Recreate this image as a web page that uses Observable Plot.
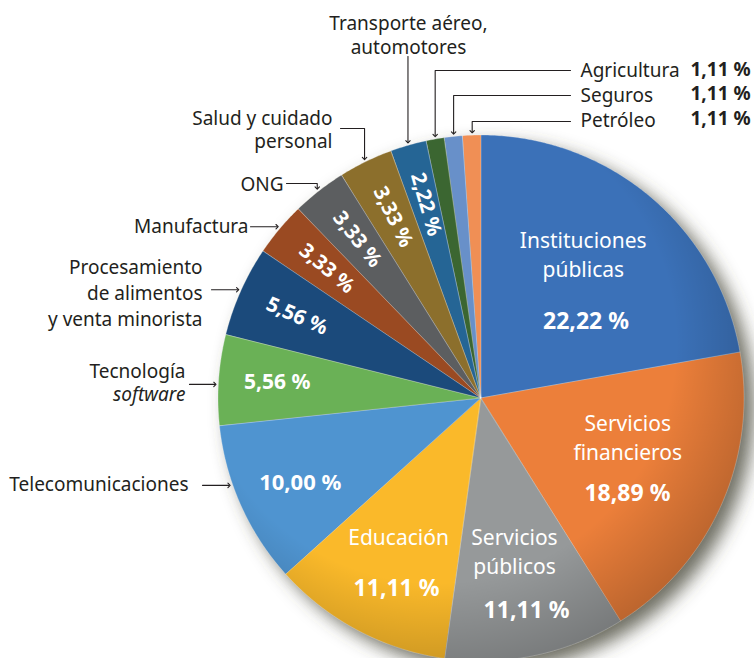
<!DOCTYPE html>
<html><head><meta charset="utf-8">
<script src="https://cdn.jsdelivr.net/npm/d3@7"></script>
<script src="https://cdn.jsdelivr.net/npm/@observablehq/plot@0.6"></script>
<style>html,body{margin:0;padding:0;background:#fff;overflow:hidden} #chart svg{display:block}</style>
</head><body><div id="chart"></div>
<script>
// ---- data ----
const categories = ["Instituciones públicas","Servicios financieros","Servicios públicos","Educación","Telecomunicaciones","Tecnología software","Procesamiento de alimentos y venta minorista","Manufactura","ONG","Salud y cuidado personal","Transporte aéreo, automotores","Agricultura","Seguros","Petróleo"];
const values = [22.22,18.89,11.11,11.11,10.00,5.56,5.56,3.33,3.33,3.33,2.22,1.11,1.11,1.11];
const colors = ["#3b71b8","#ec7f3a","#96999a","#fab92a","#4f94d0","#6ab156","#1b4a7b","#9a4a22","#5c5e60","#8c6f2c","#256595","#3b6631","#6890c9","#f08f55"];
const fmt = v => v.toFixed(2).replace(".", ",") + " %";

// ---- layout ----
const W = 754, H = 658, CX = 481, CY = 398, R = 263;
const FONT = "Noto Sans";
const INK = "#231f20";

const total = d3.sum(values);
let acc = 0;
const slices = categories.map((name, i) => {
  const a0 = acc / total * 360; acc += values[i]; const a1 = acc / total * 360;
  return {name, value: values[i], a0, a1, mid: (a0 + a1) / 2, i};
});
const polar = (deg, r) => [CX + r * Math.sin(deg * Math.PI / 180), CY - r * Math.cos(deg * Math.PI / 180)];
const bySlice = Object.fromEntries(slices.map(s => [s.name, s]));

const wedgePts = slices.flatMap(s => {
  const n = Math.max(2, Math.ceil((s.a1 - s.a0) / 0.5));
  return d3.range(n + 1).map(k => {
    const [x, y] = polar(s.a0 + (s.a1 - s.a0) * k / n, R);
    return {name: s.name, x, y};
  });
});
const circlePts = d3.range(0, 361, 1).map(a => { const [x, y] = polar(a, R); return {x, y}; });

// inner labels (polar offsets from slice mid-angle)
const innerNames = [
  {cat: "Instituciones públicas", text: "Instituciones\npúblicas", d: -4.9, r: 177},
  {cat: "Servicios financieros", text: "Servicios\nfinancieros", d: -9.6, r: 151},
  {cat: "Servicios públicos", text: "Servicios\npúblicos", d: -0.3, r: 155},
  {cat: "Educación", text: "Educación", d: 3.2, r: 160}
].map(o => { const [x, y] = polar(bySlice[o.cat].mid + o.d, o.r); return {...o, x, y}; });

const innerValues = [
  {cat: "Instituciones públicas", d: 13.5, r: 130, size: 23},
  {cat: "Servicios financieros", d: 9, r: 174, size: 23},
  {cat: "Servicios públicos", d: 0, r: 217, size: 23},
  {cat: "Educación", d: -3.9, r: 208, size: 23},
  {cat: "Telecomunicaciones", d: -1, r: 200, size: 22},
  {cat: "Tecnología software", d: 0.5, r: 205, size: 21}
].map(o => { const s = bySlice[o.cat]; const [x, y] = polar(s.mid + o.d, o.r); return {...o, x, y, text: fmt(s.value)}; });

const rotatedValues = ["Procesamiento de alimentos y venta minorista","Manufactura","ONG","Salud y cuidado personal","Transporte aéreo, automotores"]
  .map(c => { const s = bySlice[c]; const [x, y] = polar(s.mid, 202); return {x, y, rot: s.mid - 270, text: fmt(s.value)}; });

// outer callout labels
const outerEnd = [
  {text: "Salud y cuidado\npersonal", x: 332, y: 128.5},
  {text: "ONG", x: 283, y: 183},
  {text: "Manufactura", x: 248, y: 225},
  {text: "Tecnología", x: 185, y: 370.5},
  {text: "Telecomunicaciones", x: 188, y: 483}
];
const outerEndWide = [{text: "Procesamiento\nde alimentos\ny venta minorista", x: 202, y: 291}];
const outerItalic = [{text: "software", x: 185, y: 394}];
const outerMiddle = [{text: "Transporte aéreo,\nautomotores", x: 408, y: 34}];
const outerStart = [
  {text: "Agricultura", x: 580, y: 70},
  {text: "Seguros", x: 580, y: 95},
  {text: "Petróleo", x: 580, y: 120}
];
const outerStartValues = ["Agricultura","Seguros","Petróleo"].map((c, k) => ({text: fmt(bySlice[c].value), x: 690, y: [69, 93, 118][k]}));

// leader lines: tip computed from slice angle
const TIP = R + 4;
const leaders = [
  {cat: "Transporte aéreo, automotores", type: "v", y0: 56},
  {cat: "Agricultura", type: "elbow", x0: 570, y0: 70},
  {cat: "Seguros", type: "elbow", x0: 570, y0: 95},
  {cat: "Petróleo", type: "elbow", x0: 570, y0: 121},
  {cat: "Salud y cuidado personal", type: "elbow", x0: 340, y0: 128},
  {cat: "ONG", type: "elbow", x0: 286, y0: 183},
  {cat: "Manufactura", type: "h", x0: 250},
  {cat: "Procesamiento de alimentos y venta minorista", type: "h", x0: 211},
  {cat: "Tecnología software", type: "h", x0: 189, d: -1},
  {cat: "Telecomunicaciones", type: "h", x0: 202, d: 5}
];
const leaderPts = leaders.flatMap((l, id) => {
  const [tx, ty] = polar(bySlice[l.cat].mid + (l.d || 0), TIP);
  if (l.type === "v") return [{id, x: tx, y: l.y0}, {id, x: tx, y: ty}];
  if (l.type === "h") return [{id, x: l.x0, y: ty}, {id, x: tx, y: ty}];
  return [{id, x: l.x0, y: l.y0}, {id, x: tx, y: l.y0}, {id, x: tx, y: ty}];
});

const chart = Plot.plot({
  width: W, height: H, margin: 0,
  style: {fontFamily: FONT, background: "white"},
  x: {domain: [0, W], range: [0, W], axis: null},
  y: {domain: [0, H], range: [0, H], axis: null},
  color: {domain: categories, range: colors},
  marks: [
    Plot.area(circlePts, {x1: d => CX, y1: d => CY, x2: "x", y2: "y", fill: "#4a4a3c", fillOpacity: 0.8, dx: 10, dy: 9}),
    Plot.area(wedgePts, {x1: d => CX, y1: d => CY, x2: "x", y2: "y", z: "name", fill: "name", stroke: "white", strokeOpacity: 0.45, strokeWidth: 0.6}),
    Plot.area(circlePts, {x1: d => CX, y1: d => CY, x2: "x", y2: "y", fill: "url(#pieShade)"}),
    Plot.text(innerNames, {x: "x", y: "y", text: "text", fill: "white", fontSize: 21, lineHeight: 1.38, fontFamily: FONT}),
    Plot.text(innerValues, {x: "x", y: "y", text: "text", fill: "white", fontSize: d => d.size, fontWeight: "bold", fontFamily: FONT}),
    Plot.text(rotatedValues, {x: "x", y: "y", text: "text", rotate: "rot", fill: "white", fontSize: 20.5, fontWeight: "bold", fontFamily: FONT}),
    Plot.text(outerEnd, {x: "x", y: "y", text: "text", textAnchor: "end", fill: INK, fontSize: 19, lineHeight: 1.2, fontFamily: FONT}),
    Plot.text(outerEndWide, {x: "x", y: "y", text: "text", textAnchor: "end", fill: INK, fontSize: 19, lineHeight: 1.36, fontFamily: FONT}),
    Plot.text(outerItalic, {x: "x", y: "y", text: "text", textAnchor: "end", fill: INK, fontSize: 19, fontStyle: "italic", fontFamily: FONT}),
    Plot.text(outerMiddle, {x: "x", y: "y", text: "text", textAnchor: "middle", fill: INK, fontSize: 19, lineHeight: 1.22, fontFamily: FONT}),
    Plot.text(outerStart, {x: "x", y: "y", text: "text", textAnchor: "start", fill: INK, fontSize: 19, fontFamily: FONT}),
    Plot.text(outerStartValues, {x: "x", y: "y", text: "text", textAnchor: "start", fill: INK, fontSize: 19, fontWeight: "bold", fontFamily: FONT}),
    Plot.line(leaderPts, {x: "x", y: "y", z: "id", stroke: INK, strokeWidth: 1.1, markerEnd: "arrow"})
  ]
});

// defs: shadow blur + rim shading
const ns = "http://www.w3.org/2000/svg";
const defs = document.createElementNS(ns, "defs");
defs.innerHTML = `
  <filter id="pieShadow" x="-20%" y="-20%" width="140%" height="140%"><feGaussianBlur stdDeviation="9"/></filter>
  <radialGradient id="pieShade" gradientUnits="userSpaceOnUse" cx="${CX - 45}" cy="${CY - 55}" r="${R + 70}">
    <stop offset="0" stop-color="#000" stop-opacity="0"/>
    <stop offset="0.72" stop-color="#000" stop-opacity="0"/>
    <stop offset="1" stop-color="#000" stop-opacity="0.2"/>
  </radialGradient>`;
chart.insertBefore(defs, chart.firstChild);
const areas = chart.querySelectorAll('g[aria-label="area"]');
if (areas[0]) areas[0].setAttribute("filter", "url(#pieShadow)");
document.getElementById("chart").appendChild(chart);
</script></body></html>
